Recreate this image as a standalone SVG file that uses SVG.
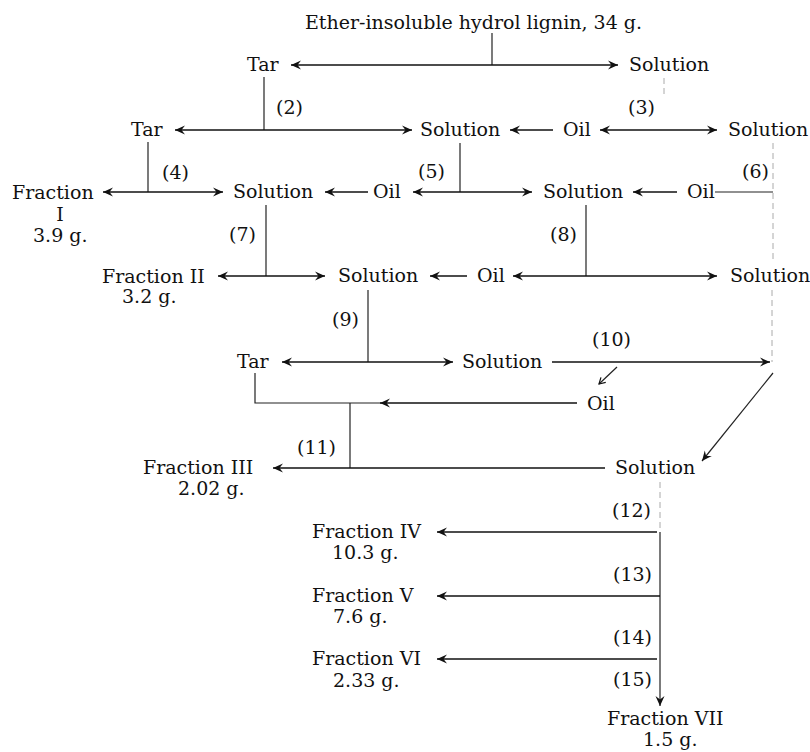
<svg xmlns="http://www.w3.org/2000/svg" width="810" height="752" viewBox="0 0 810 752">
<defs>
<marker id="ah" viewBox="-11 -6 12 12" markerWidth="12" markerHeight="12" refX="0" refY="0" orient="auto-start-reverse" markerUnits="userSpaceOnUse">
<path d="M0,0 L-10,-4.5 L-6.5,0 L-10,4.5 Z" fill="#111"/>
</marker>
<marker id="ahs" viewBox="-8 -5 9 10" markerWidth="9" markerHeight="10" refX="0" refY="0" orient="auto" markerUnits="userSpaceOnUse">
<path d="M-6,-3.5 L0,0 L-6,3.5" stroke="#111" stroke-width="1.2" fill="none"/>
</marker>
</defs>
<style>
text{font-family:"DejaVu Serif","Liberation Serif",serif;font-size:19px;fill:#111}
.c{stroke:#222;stroke-width:1.2;fill:none}
.a{stroke:#111;stroke-width:1.4;fill:none}
.ar{marker-end:url(#ah)}
.ad{marker-start:url(#ah);marker-end:url(#ah)}
.f{stroke:#aaa;stroke-width:1;fill:none;stroke-dasharray:6 4}
</style>
<rect width="810" height="752" fill="#fff"/>
<g id="connectors">
<path class="c" d="M492,33 V65"/>
<path class="a ad" d="M291,65 H618"/>
<path class="c" d="M264,77 V130"/>
<path class="f" d="M664,78 V96"/>
<path class="a ad" d="M175,130 H412"/>
<path class="a ar" d="M553,130 H510"/>
<path class="a ad" d="M600,130 H717"/>
<path class="c" d="M148,142 V192"/>
<path class="c" d="M460,143 V192"/>
<path class="f" d="M773,143 V262"/>
<path class="a ad" d="M103,192 H223"/>
<path class="a ar" d="M368,192 H325"/>
<path class="a ad" d="M413,192 H532"/>
<path class="a ar" d="M677,192 H633"/>
<path class="c" d="M715,192 H773"/>
<path class="c" d="M266,205 V276"/>
<path class="c" d="M586,205 V276"/>
<path class="a ad" d="M218,276 H325"/>
<path class="a ar" d="M467,276 H430"/>
<path class="a ad" d="M513,276 H717"/>
<path class="f" d="M772,290 V362"/>
<path class="c" d="M368,290 V362"/>
<path class="a ad" d="M282,362 H453"/>
<path class="a ar" d="M552,362 H770"/>
<path class="c" d="M617,367 L599,384" marker-end="url(#ahs)"/>
<path class="a ar" d="M577,403 H380"/>
<path class="c" d="M382,403 H255 V373"/>
<path class="c" d="M350,403 V468"/>
<path class="a ar" d="M605,468 H273"/>
<path class="c ar" d="M773,373 L702,461"/>
<path class="f" d="M660,482 V532"/>
<path class="c ar" d="M660,532 V706"/>
<path class="a ar" d="M657,532 H437"/>
<path class="a ar" d="M660,596 H437"/>
<path class="a ar" d="M657,659 H437"/>
</g>
<g id="labels">
<text x="276" y="114">(2)</text>
<text x="628" y="114">(3)</text>
<text x="162" y="179">(4)</text>
<text x="418" y="178">(5)</text>
<text x="742" y="178">(6)</text>
<text x="229" y="241">(7)</text>
<text x="550" y="241">(8)</text>
<text x="332" y="326">(9)</text>
<text x="592" y="346">(10)</text>
<text x="297" y="454">(11)</text>
<text x="612" y="517">(12)</text>
<text x="613" y="581">(13)</text>
<text x="613" y="644">(14)</text>
<text x="613" y="686">(15)</text>
</g>
<g id="n-lignin"><text x="305" y="29">Ether-insoluble hydrol lignin, 34 g.</text></g>
<g id="n-tar1"><text x="247" y="71">Tar</text></g>
<g id="n-sol1"><text x="629" y="71">Solution</text></g>
<g id="n-tar2"><text x="131" y="136">Tar</text></g>
<g id="n-sol2"><text x="420" y="136">Solution</text></g>
<g id="n-oil2"><text x="563" y="136">Oil</text></g>
<g id="n-sol2r"><text x="728" y="136">Solution</text></g>
<g id="n-frac1"><text x="12" y="199">Fraction</text><text x="60" y="221" text-anchor="middle">I</text><text x="33" y="242">3.9 g.</text></g>
<g id="n-sol3"><text x="233" y="198">Solution</text></g>
<g id="n-oil3"><text x="373" y="198">Oil</text></g>
<g id="n-sol3b"><text x="543" y="198">Solution</text></g>
<g id="n-oil3b"><text x="687" y="198">Oil</text></g>
<g id="n-frac2"><text x="102" y="283">Fraction II</text><text x="122" y="303">3.2 g.</text></g>
<g id="n-sol4"><text x="338" y="282">Solution</text></g>
<g id="n-oil4"><text x="477" y="282">Oil</text></g>
<g id="n-sol4r"><text x="730" y="282">Solution</text></g>
<g id="n-tar5"><text x="237" y="368">Tar</text></g>
<g id="n-sol5"><text x="462" y="368">Solution</text></g>
<g id="n-oil5"><text x="587" y="410">Oil</text></g>
<g id="n-frac3"><text x="143" y="474">Fraction III</text><text x="178" y="495">2.02 g.</text></g>
<g id="n-sol6"><text x="615" y="474">Solution</text></g>
<g id="n-frac4"><text x="312" y="538">Fraction IV</text><text x="332" y="559">10.3 g.</text></g>
<g id="n-frac5"><text x="312" y="602">Fraction V</text><text x="333" y="623">7.6 g.</text></g>
<g id="n-frac6"><text x="312" y="665">Fraction VI</text><text x="333" y="687">2.33 g.</text></g>
<g id="n-frac7"><text x="607" y="725">Fraction VII</text><text x="643" y="746">1.5 g.</text></g>
</svg>
